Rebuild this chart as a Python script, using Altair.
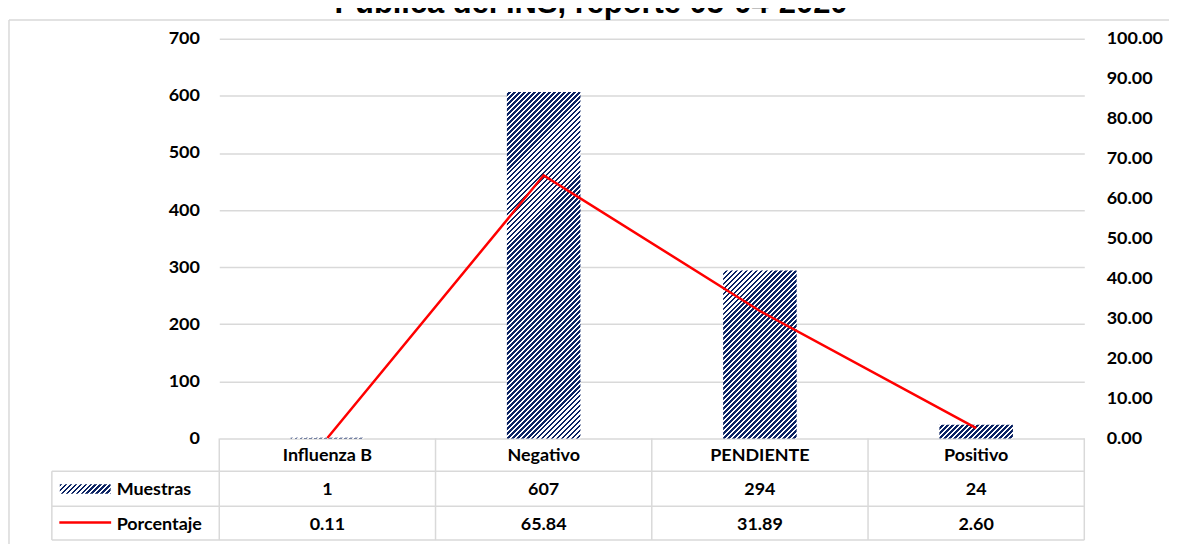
import math
import altair as alt
import pandas as pd

# ---------------- data ----------------
categories = ["Influenza B", "Negativo", "PENDIENTE", "Positivo"]
muestras = [1, 607, 294, 24]
porcentaje = [0.11, 65.84, 31.89, 2.60]
muestras_labels = ["1", "607", "294", "24"]
porcentaje_labels = ["0.11", "65.84", "31.89", "2.60"]
left_ticks = [0, 100, 200, 300, 400, 500, 600, 700]
right_ticks = [0, 10, 20, 30, 40, 50, 60, 70, 80, 90, 100]
row_labels = ["Muestras", "Porcentaje"]
title_text = "Pública del INS, reporte 05-04-2020"

df = pd.DataFrame({
    "cat": categories,
    "muestras": muestras,
    "porcentaje": porcentaje,
    "m_label": muestras_labels,
    "p_label": porcentaje_labels,
})

# ---------------- style ----------------
W, H = 868, 401
FONT = "Lato"
FS = 18
NAVY = "#0b2363"
RED = "#ff0000"
GRID = "#d9d9d9"
Y_MAX_L, Y_MAX_R = 700, 100
P_INNER = 0.66
PERIOD = 5.0      # hatch period (px, along x)
FRAC = 0.55       # share of navy in each period
PIECE = 50        # bars are painted in slices so the hatch stays crisp


def hatch(w, h, d=0.0, period=PERIOD, frac=FRAC, c1=NAVY, c2="#ffffff"):
    """Diagonal '/' hatch as a hard-stop linear gradient over a w x h box.
    d = phase offset (px) so adjacent slices line up."""
    total = w + h
    stops = []
    s = 0.0
    phase = d % period
    while s < total - 1e-9:
        if phase < frac * period:
            col, end, nxt = c1, s + (frac * period - phase), frac * period
        else:
            col, end, nxt = c2, s + (period - phase), 0.0
        end = min(end, total)
        stops.append({"offset": round(s / total, 6), "color": col})
        stops.append({"offset": round(end / total, 6), "color": col})
        phase = nxt
        s = end
    r = h / w
    a = (1 + r) / (1 + r * r)
    return {"gradient": "linear", "x1": 0, "y1": 0,
            "x2": round(a, 6), "y2": round(a * r, 6), "stops": stops}


xscale = alt.Scale(domain=categories, paddingInner=P_INNER, paddingOuter=P_INNER / 2)
X = alt.X("cat:N", scale=xscale, axis=None)
ly_scale = alt.Scale(domain=[0, Y_MAX_L])

left_axis = alt.Axis(
    orient="left", values=left_ticks, format="d", title=None,
    domain=False, ticks=False, labelPadding=20,
    labelFont=FONT, labelFontSize=FS, labelFontWeight="bold", labelColor="#000000",
    grid=True, gridColor=GRID, gridWidth=1.5,
)
right_axis = alt.Axis(
    orient="right", values=right_ticks, format=".2f", title=None,
    domain=False, ticks=False, labelPadding=22, grid=False,
    labelFont=FONT, labelFontSize=FS, labelFontWeight="bold", labelColor="#000000",
)

band_w = W / len(categories) * (1 - P_INNER)
px_per_unit = H / Y_MAX_L
bar_layers = []
for cat, val in zip(categories, muestras):
    lo = 0
    while lo < val:
        hi = min(val, lo + PIECE)
        lo_eff = max(lo - 1, 0)  # tiny overlap hides seams
        h = max((hi - lo_eff) * px_per_unit, 0.6)
        d = (Y_MAX_L - hi) * px_per_unit
        bar_layers.append(
            alt.Chart(df)
            .transform_filter(alt.datum.cat == cat)
            .transform_calculate(hi=f"min(datum.muestras, {lo + PIECE})", lo=f"{lo_eff}")
            .mark_bar(fill=hatch(band_w, h, d))
            .encode(
                x=X,
                y=alt.Y("hi:Q", scale=ly_scale, axis=left_axis),
                y2=alt.Y2("lo:Q"),
            )
        )
        lo += PIECE
bars = alt.layer(*bar_layers)

line = alt.Chart(df).mark_line(color=RED, strokeWidth=2.5).encode(
    x=X,
    y=alt.Y("porcentaje:Q", scale=alt.Scale(domain=[0, Y_MAX_R]), axis=right_axis),
)

txt = dict(font=FONT, fontSize=FS, fontWeight="bold", color="#000000")

header = alt.Chart(df).mark_text(baseline="alphabetic", **txt).encode(
    x=X, y=alt.value(423.5), text="cat:N")
row_m = alt.Chart(df).mark_text(baseline="alphabetic", **txt).encode(
    x=X, y=alt.value(458), text="m_label:N")
row_p = alt.Chart(df).mark_text(baseline="alphabetic", **txt).encode(
    x=X, y=alt.value(492.5), text="p_label:N")

lab_df = pd.DataFrame({"t": row_labels})
lab_m = alt.Chart(lab_df).transform_filter(alt.datum.t == row_labels[0]).mark_text(
    baseline="alphabetic", align="left", **txt).encode(
    x=alt.value(-103), y=alt.value(458), text="t:N")
lab_p = alt.Chart(lab_df).transform_filter(alt.datum.t == row_labels[1]).mark_text(
    baseline="alphabetic", align="left", **txt).encode(
    x=alt.value(-103), y=alt.value(492.5), text="t:N")

one = pd.DataFrame({"k": [0]})
key_bar = alt.Chart(one).mark_rect(fill=hatch(51, 9.5)).encode(
    x=alt.value(-160), x2=alt.value(-109), y=alt.value(447), y2=alt.value(456.5))
key_line = alt.Chart(one).mark_rule(color=RED, strokeWidth=2.5).encode(
    x=alt.value(-160.5), x2=alt.value(-108.5), y=alt.value(485.3))

# table and frame lines
rules = []
for yy in [434, 469, 503]:
    rules.append(alt.Chart(one).mark_rule(color=GRID, strokeWidth=1.5).encode(
        x=alt.value(-168), x2=alt.value(W), y=alt.value(yy)))
for k in range(len(categories) + 1):
    xx = W / len(categories) * k
    rules.append(alt.Chart(one).mark_rule(color=GRID, strokeWidth=1.5).encode(
        x=alt.value(xx), y=alt.value(H), y2=alt.value(503)))
rules.append(alt.Chart(one).mark_rule(color=GRID, strokeWidth=1.5).encode(
    x=alt.value(-168), y=alt.value(434), y2=alt.value(503)))
# outer chart-area border (left and top)
rules.append(alt.Chart(one).mark_rule(color=GRID, strokeWidth=1.5).encode(
    x=alt.value(-211), y=alt.value(-19), y2=alt.value(510)))
rules.append(alt.Chart(one).mark_rule(color=GRID, strokeWidth=1.5).encode(
    x=alt.value(-211), x2=alt.value(960), y=alt.value(-19)))

# chart title: only its lower part is visible in the original picture
title = alt.Chart(pd.DataFrame({"t": [title_text]})).mark_text(
    font="Liberation Sans", fontSize=31, fontWeight="bold", color="#000000",
    baseline="alphabetic", align="center").encode(
    x=alt.value(373), y=alt.value(-26), text="t:N")

chart = (
    alt.layer(bars, line, header, row_m, row_p, lab_m, lab_p, key_bar, key_line,
              *rules, title)
    .resolve_scale(y="independent")
    .properties(
        width=W, height=H,
        padding={"left": 212, "top": 30, "right": 85, "bottom": 105},
        autosize=alt.AutoSizeParams(type="none"),
        background="#ffffff",
    )
    .configure_view(stroke=None)
)

chart.save("out.html", embed_options={"renderer": "svg", "actions": False})
